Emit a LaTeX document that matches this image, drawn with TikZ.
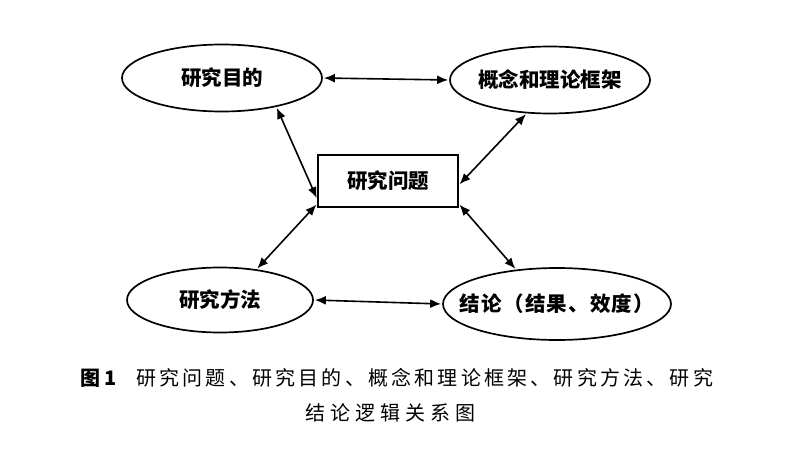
\documentclass[tikz,border=0pt]{standalone}
\usepackage{fontspec}
\newfontfamily\cjk{Noto Sans CJK SC}
\usepackage{tikz}
\usetikzlibrary{shapes.geometric, arrows.meta, positioning}

\begin{document}
\begin{tikzpicture}[
  x=1pt, y=-1pt,
  font=\cjk\bfseries\fontsize{20.5}{24}\selectfont,
  oval/.style    = {ellipse, draw=black, line width=1.7pt, inner ysep=0pt,
                    inner xsep=-20pt, minimum width=200pt, minimum height=67pt},
  core/.style    = {rectangle, draw=black, line width=1.7pt,
                    minimum width=140pt, minimum height=52pt},
  link/.style    = {{Latex[length=11pt,width=9pt]}-{Latex[length=11pt,width=9pt]},
                    line width=1.6pt, black, shorten <=1pt, shorten >=1pt},
  captext/.style = {font=\cjk\fontsize{20}{24}\selectfont, anchor=center}
]
\useasboundingbox (0,0) rectangle (809,455);

% ---------- nodes ----------
\node[oval] (mudi)     at (222,78)  {研究目的};
\node[oval] (kuangjia) at (550,80)  {概念和理论框架};
\node[core] (wenti)    at (388,181) {研究问题};
\node[oval, minimum width=186pt, minimum height=65pt] (fangfa) at (220,300) {研究方法};
\node[oval, minimum width=228pt, minimum height=72pt] (jielun) at (557,304)
  {\addfontfeature{LetterSpace=6}结论（结果、效度）};

% ---------- links ----------
\draw[link] (mudi.east)   -- (kuangjia.west);
\draw[link] (fangfa.east) -- (jielun.west);
\draw[link] (mudi.-28)    -- ([yshift=-18pt]wenti.west);
\draw[link] (kuangjia.235) -- ([yshift=-4pt]wenti.east);
\draw[link] ([yshift=4pt]wenti.south west) -- (fangfa.40);
\draw[link] ([yshift=4pt]wenti.south east) -- (jielun.140);

% ---------- caption ----------
\node[captext] (cap1) at (397,378)
  {\addfontfeature{LetterSpace=16}\bfseries 图\,1\hspace{20pt}\mdseries 研究问题、研究目的、概念和理论框架、研究方法、研究};
\node[captext] (cap2) at (390,413)
  {\addfontfeature{LetterSpace=25}结论逻辑关系图};

\end{tikzpicture}
\end{document}
